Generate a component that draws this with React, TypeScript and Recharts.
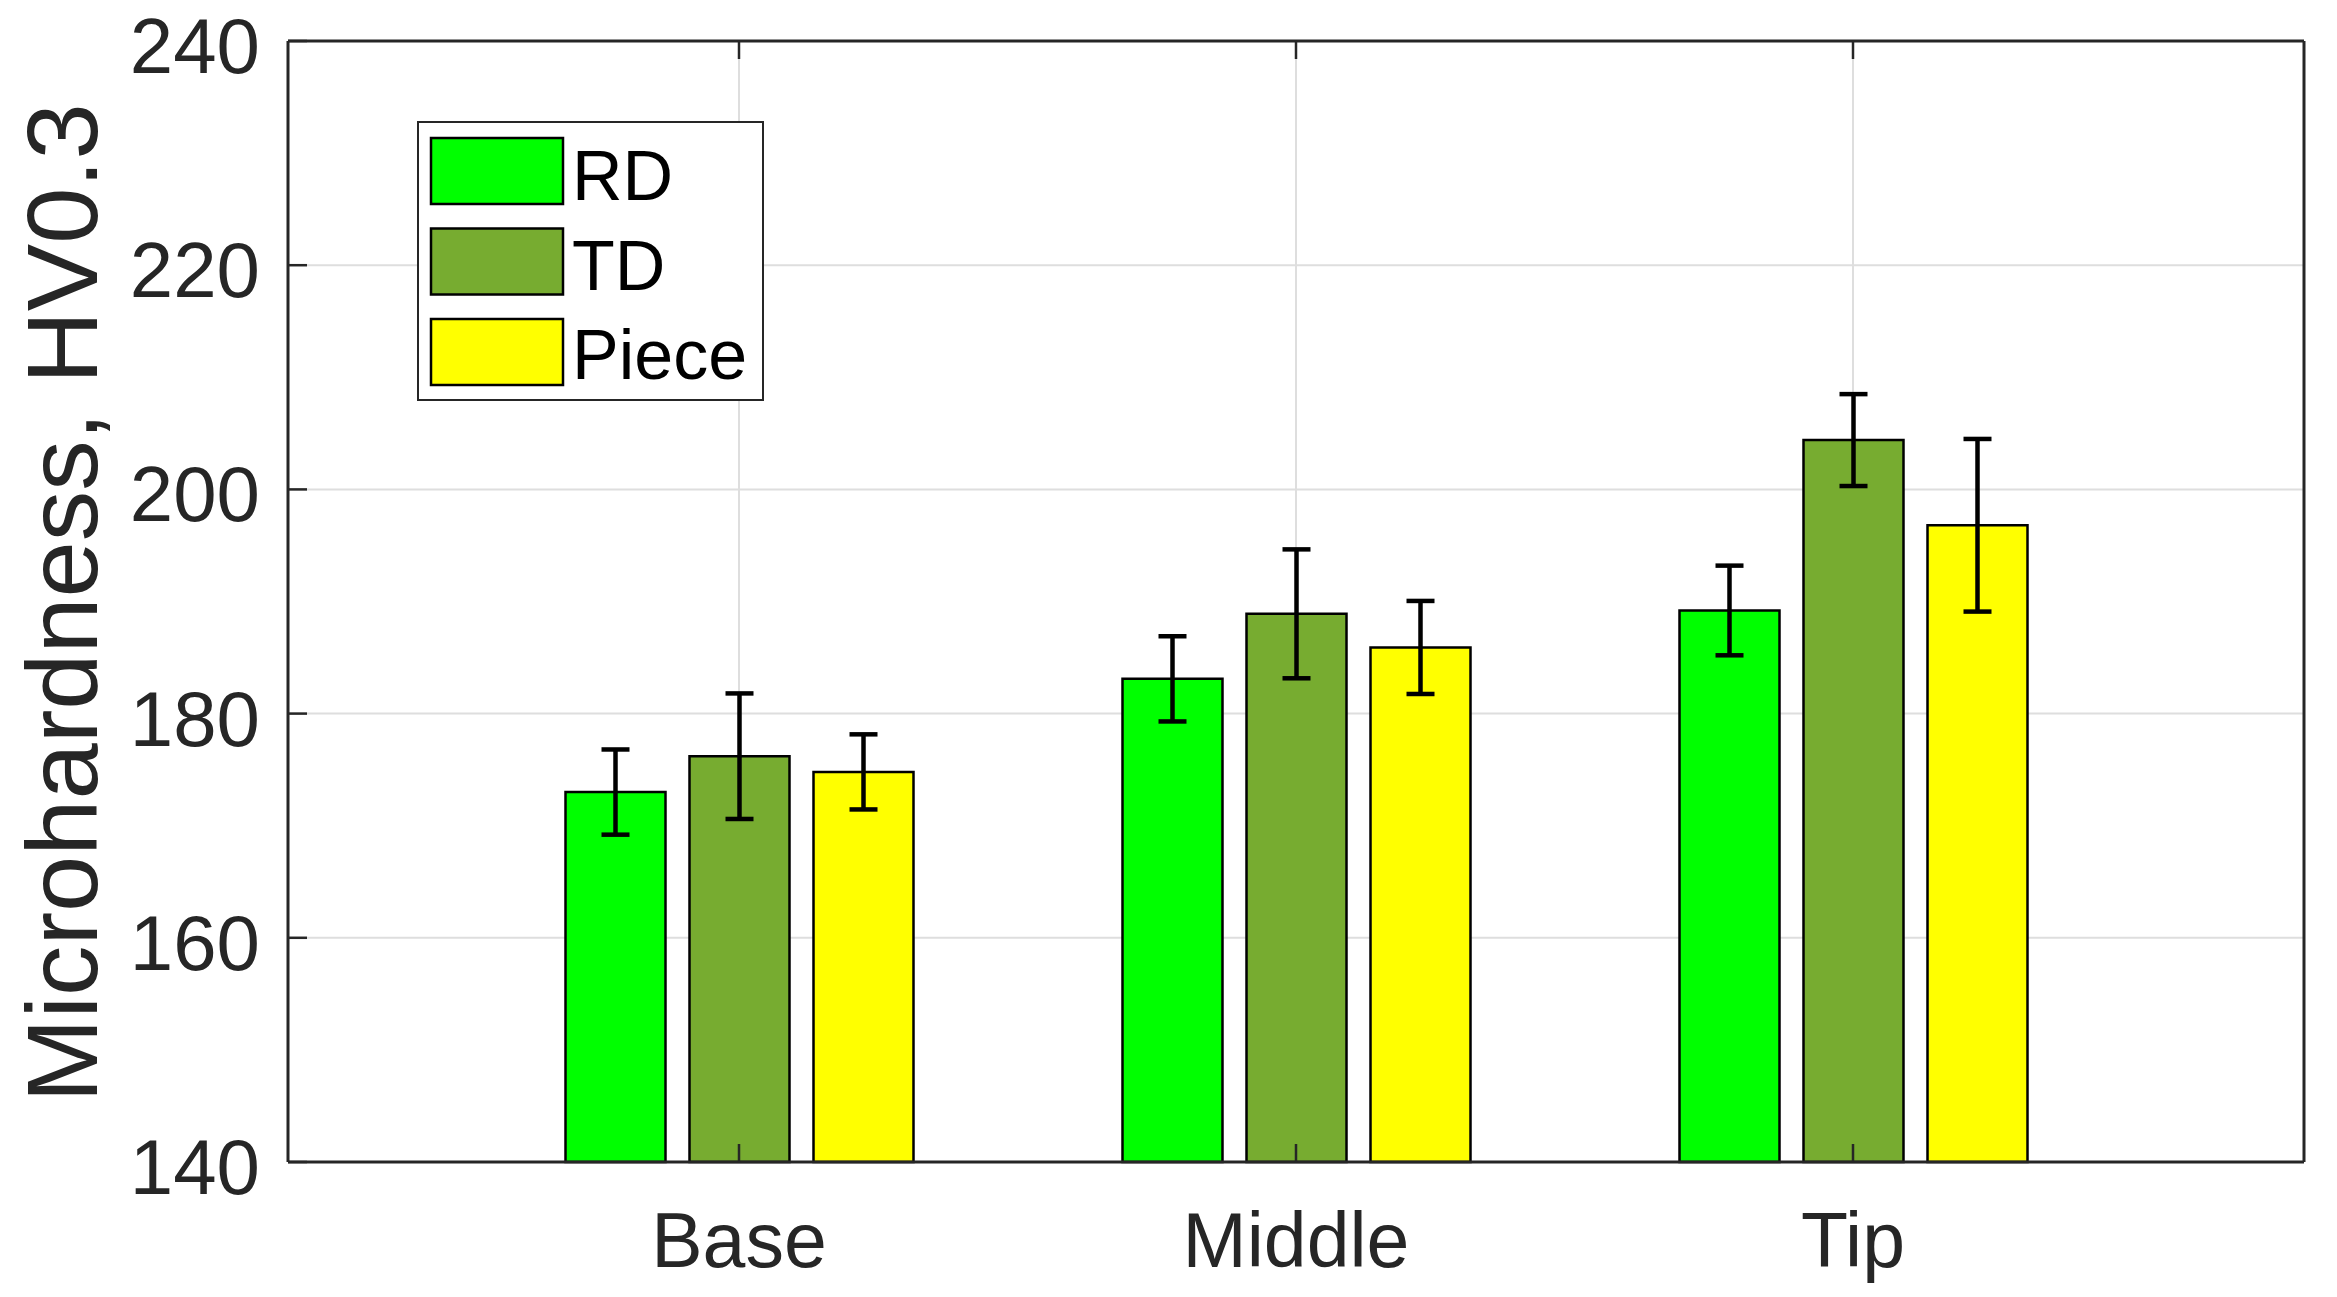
import { BarChart, Bar, XAxis, YAxis, CartesianGrid, ErrorBar, Legend, Label } from 'recharts';

const categories = ['Base', 'Middle', 'Tip'];

const rdMean = [173.0, 183.1, 189.2];
const rdErr = [3.8, 3.8, 4.0];
const tdMean = [176.2, 188.9, 204.4];
const tdErr = [5.6, 5.75, 4.1];
const pieceMean = [174.8, 185.9, 196.8];
const pieceErr = [3.35, 4.15, 7.7];

const yTicks = [140, 160, 180, 200, 220, 240];

const series = [
  { key: 'RD', color: '#00ff00' },
  { key: 'TD', color: '#77ac30' },
  { key: 'Piece', color: '#ffff00' },
];

const data = categories.map((name, i) => ({
  name,
  RD: rdMean[i],
  RDErr: rdErr[i],
  TD: tdMean[i],
  TDErr: tdErr[i],
  Piece: pieceMean[i],
  PieceErr: pieceErr[i],
}));

const FONT = '"Liberation Sans", Arial, Helvetica, sans-serif';
const INK = '#262626';
const PAD = { left: 172.5, right: 172.5 };

// tick marks only, no labels (for the mirrored top / right axes)
const NoLabel = () => <g />;

const YTick = ({ x, y, payload }: any) => (
  <text x={x} y={y} dy={32} textAnchor="end" fontSize={78} fontFamily={FONT} fill={INK}>
    {payload.value}
  </text>
);

const LegendBox = () => (
  <svg width={347} height={280} style={{ display: 'block' }}>
    <rect x={1} y={1} width={345} height={278} fill="#fff" stroke={INK} strokeWidth={2} />
    {series.map((s, i) => (
      <g key={s.key}>
        <rect x={14} y={17 + i * 90.5} width={132} height={66} fill={s.color} stroke="#000" strokeWidth={2.5} />
        <text x={155} y={79 + i * 89.5} fontSize={70} fontFamily={FONT} fill="#000">
          {s.key}
        </text>
      </g>
    ))}
  </svg>
);

const YLabel = () => (
  <text
    transform="translate(97,603) rotate(-90)"
    textAnchor="middle"
    fontSize={101}
    fontFamily={FONT}
    fill={INK}
  >
    Microhardness, HV0.3
  </text>
);

const App = () => (
  // cancel the body margin so the svg starts at the page corner
  <div style={{ margin: -8 }}>
    <BarChart
      width={2337}
      height={1297}
      data={data}
      margin={{ top: 40, right: 32, left: 0, bottom: 15 }}
      barSize={100}
      barGap={24}
      style={{ fontFamily: FONT }}
    >
      <CartesianGrid stroke="#dedede" strokeWidth={2} />
      {series.map((s) => (
        <Bar key={s.key} dataKey={s.key} fill={s.color} stroke="#000" strokeWidth={2.5} isAnimationActive={false}>
          <ErrorBar dataKey={`${s.key}Err`} width={14} stroke="#000" strokeWidth={4.5} />
        </Bar>
      ))}
      <XAxis
        dataKey="name"
        height={120}
        padding={PAD}
        interval={0}
        tickSize={-18}
        tickMargin={68}
        axisLine={{ stroke: INK, strokeWidth: 3 }}
        tickLine={{ stroke: INK, strokeWidth: 2.5 }}
        tick={{ fontSize: 77, fill: INK, fontFamily: FONT }}
      />
      <XAxis
        xAxisId="top"
        orientation="top"
        dataKey="name"
        height={1}
        padding={PAD}
        interval={0}
        tickSize={-18}
        tick={<NoLabel />}
        axisLine={{ stroke: INK, strokeWidth: 3 }}
        tickLine={{ stroke: INK, strokeWidth: 2.5 }}
      />
      <YAxis
        type="number"
        domain={[140, 240]}
        ticks={yTicks}
        interval={0}
        width={288}
        tickSize={-19}
        tickMargin={47}
        axisLine={{ stroke: INK, strokeWidth: 3 }}
        tickLine={{ stroke: INK, strokeWidth: 2.5 }}
        tick={<YTick />}
      >
        <Label content={() => <YLabel />} />
      </YAxis>
      <YAxis
        yAxisId="right"
        orientation="right"
        type="number"
        domain={[140, 240]}
        ticks={yTicks}
        interval={0}
        width={1}
        tickSize={-19}
        tick={<NoLabel />}
        axisLine={{ stroke: INK, strokeWidth: 3 }}
        tickLine={{ stroke: INK, strokeWidth: 2.5 }}
      />
      <Legend
        layout="horizontal"
        verticalAlign="middle"
        align="center"
        content={() => <LegendBox />}
        wrapperStyle={{ position: 'absolute', left: 417, top: 121, width: 347, height: 280 }}
      />
    </BarChart>
  </div>
);

export default App;
